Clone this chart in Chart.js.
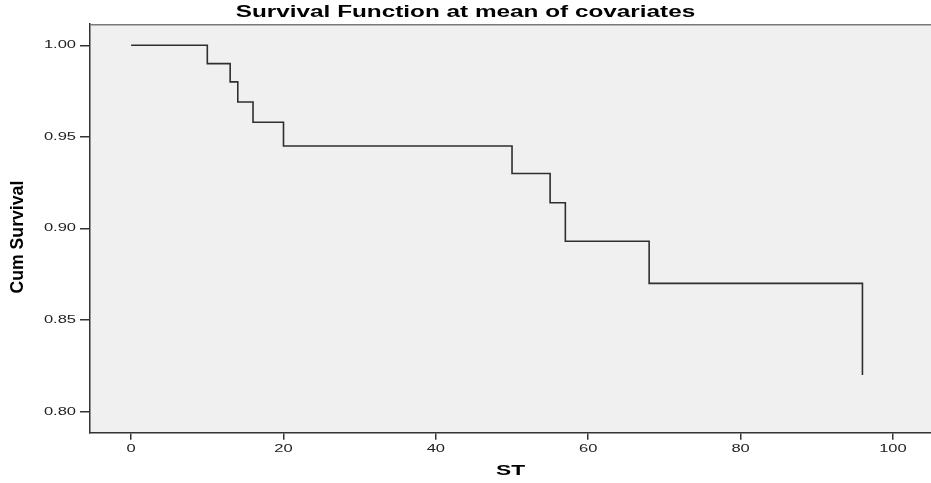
<!DOCTYPE html>
<html><head><meta charset="utf-8">
<script src="https://cdn.jsdelivr.net/npm/chart.js@4/dist/chart.umd.min.js"></script>
<style>html,body{margin:0;padding:0;background:#fff}canvas{display:block}</style>
</head><body>
<canvas id="c" width="931" height="483"></canvas>
<script>
const chartTitle = 'Survival Function at mean of covariates';
const xAxisTitle = 'ST';
const yAxisTitle = 'Cum Survival';
const times = [0, 10, 13, 14, 16, 20, 50, 55, 57, 68, 96];
const cumSurvival = [1.000, 0.990, 0.980, 0.969, 0.958, 0.945, 0.930, 0.914, 0.893, 0.870, 0.820];
const xTickValues = [0, 20, 40, 60, 80, 100];
const yTickValues = [0.80, 0.85, 0.90, 0.95, 1.00];

const points = times.map((t, i) => ({x: t, y: cumSurvival[i]}));

// glyph stretch per font size (the reference is drawn with widened / condensed glyphs)
const textStyles = {
  16:   {sx: 1.52, sy: 1, dx: 0},    // chart title
  15.4: {sx: 1.48, sy: 1, dx: 0},    // x axis title
  19:   {sx: 0.93, sy: 1, dx: -8.7}, // y axis title (rotated, condensed)
  11:   {sx: 1.5,  sy: 1, dx: 0}     // tick labels
};

const canvas = document.getElementById('c');
const c2d = canvas.getContext('2d');
const origFill = c2d.fillText;
c2d.fillText = function (text, x, y) {
  const m = /(\d+(?:\.\d+)?)px/.exec(this.font);
  const st = (m && textStyles[parseFloat(m[1])]) || {sx: 1, sy: 1, dx: 0};
  this.save();
  this.translate(x + st.dx, y);
  this.scale(st.sx, st.sy);
  origFill.call(this, text, 0, 0);
  this.restore();
};

const plotBg = {
  id: 'plotBg',
  beforeDraw(chart) {
    const {ctx, chartArea: a} = chart;
    ctx.save();
    ctx.fillStyle = '#f0f0f0';
    ctx.fillRect(a.left, a.top, a.right - a.left, a.bottom - a.top);
    ctx.restore();
  },
  afterDraw(chart) {
    const {ctx, chartArea: a} = chart;
    ctx.save();
    ctx.strokeStyle = '#7a7a7a';
    ctx.lineWidth = 1.5;
    ctx.beginPath();
    ctx.moveTo(a.left, a.top + 0.5);
    ctx.lineTo(a.right, a.top + 0.5);
    ctx.stroke();
    ctx.restore();
  }
};

const FONT = "'Liberation Sans', Arial, sans-serif";

new Chart(canvas, {
  type: 'line',
  data: {
    datasets: [{
      data: points,
      stepped: 'before',
      borderColor: '#2e2e2e',
      borderWidth: 1.6,
      pointRadius: 0,
      fill: false,
      tension: 0
    }]
  },
  options: {
    responsive: false,
    animation: false,
    devicePixelRatio: 1,
    layout: {padding: 0},
    plugins: {
      legend: {display: false},
      tooltip: {enabled: false},
      title: {
        display: true,
        text: chartTitle,
        color: '#000',
        font: {family: FONT, size: 16, weight: 'bold'},
        padding: {top: 2.7, bottom: 2.3}
      }
    },
    scales: {
      x: {
        type: 'linear',
        min: -5.4,
        max: 105,
        afterBuildTicks(scale) { scale.ticks = xTickValues.map(v => ({value: v})); },
        afterFit(scale) { scale.height = 50.3; },
        grid: {drawOnChartArea: false, drawTicks: true, tickLength: 7, color: '#333', lineWidth: 1.5},
        border: {display: true, color: '#333', width: 1.5},
        ticks: {padding: 3, color: '#222', font: {family: FONT, size: 11}, maxRotation: 0,
          callback: v => String(v)},
        title: {display: true, text: xAxisTitle, color: '#000',
          font: {family: FONT, size: 15.4, weight: 'bold'}, padding: {top: 0, bottom: 3.1}}
      },
      y: {
        type: 'linear',
        min: 0.7885,
        max: 1.0115,
        afterBuildTicks(scale) { scale.ticks = yTickValues.map(v => ({value: v})); },
        afterFit(scale) { scale.width = 90; },
        grid: {drawOnChartArea: false, drawTicks: true, tickLength: 10, color: '#333', lineWidth: 1.5},
        border: {display: true, color: '#333', width: 1.5},
        ticks: {padding: 4, color: '#222', font: {family: FONT, size: 11},
          callback: v => Number(v).toFixed(2)},
        title: {display: true, text: yAxisTitle, color: '#000',
          font: {family: FONT, size: 19, weight: 'bold'}, padding: {top: 6.1, bottom: 0}}
      }
    }
  },
  plugins: [plotBg]
});
</script>
</body></html>
